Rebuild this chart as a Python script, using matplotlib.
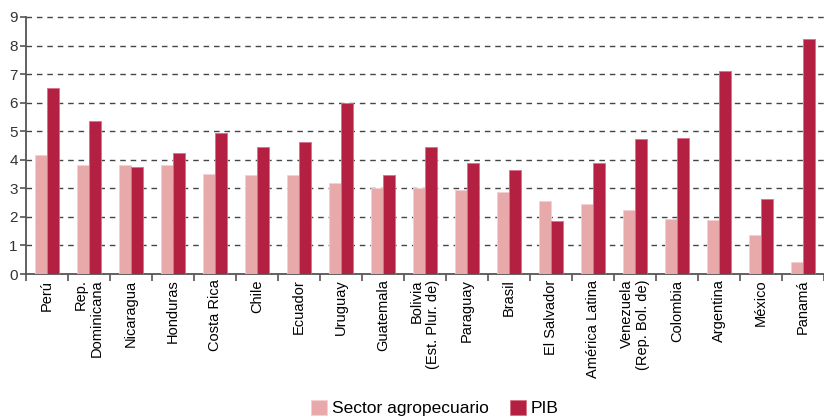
import numpy as np
import matplotlib
matplotlib.use('Agg')
import matplotlib.pyplot as plt

plt.rcParams['font.family'] = ['Liberation Sans', 'DejaVu Sans']

paises = ['Perú', 'Rep.\nDominicana', 'Nicaragua', 'Honduras', 'Costa Rica',
          'Chile', 'Ecuador', 'Uruguay', 'Guatemala', 'Bolivia\n(Est. Plur. de)',
          'Paraguay', 'Brasil', 'El Salvador', 'América Latina',
          'Venezuela\n(Rep. Bol. de)', 'Colombia', 'Argentina', 'México', 'Panamá']
agro = [4.18, 3.82, 3.82, 3.82, 3.50, 3.45, 3.45, 3.20, 3.00, 3.00,
        2.95, 2.88, 2.56, 2.44, 2.24, 1.93, 1.88, 1.37, 0.43]
pib = [6.50, 5.37, 3.75, 4.25, 4.95, 4.45, 4.63, 6.00, 3.45, 4.45,
       3.88, 3.63, 1.87, 3.88, 4.74, 4.75, 7.11, 2.62, 8.23]

c_agro = '#e8a9ab'
c_pib = '#b42041'

fig = plt.figure(figsize=(8.24, 4.18), dpi=100)
ax = fig.add_axes([26 / 824, 144 / 418, 798 / 824, 257 / 418])

x = np.arange(len(paises))
w = 0.275
ax.bar(x - w / 2, agro, w, color=c_agro, edgecolor='#f3d0d2', linewidth=0.6,
       label='Sector agropecuario', zorder=3)
ax.bar(x + w / 2, pib, w, color=c_pib, edgecolor='#d87088', linewidth=0.6,
       label='PIB', zorder=3)

ax.set_xlim(-0.5, len(paises) - 0.5)
ax.set_ylim(0, 9)
ax.set_yticks(range(10))
for y in range(1, 10):
    ax.axhline(y, color='#454545', lw=1.0, ls=(0, (4, 3.5)), zorder=1,
               clip_on=False)

ax.set_xticks(x)
ax.set_xticklabels(paises, rotation=90, ha='center', va='top',
                   multialignment='right', fontsize=10.5)
ax.set_xticks(np.arange(-0.5, len(paises), 1), minor=True)
ax.tick_params(axis='x', which='major', length=0, pad=4)
ax.tick_params(axis='x', which='minor', length=5, width=1.2, color='#555555')
ax.tick_params(axis='y', length=4, width=1.2, color='#555555', labelsize=11,
               pad=2, labelcolor='#333333')

for s in ['top', 'right']:
    ax.spines[s].set_visible(False)
for s in ['left', 'bottom']:
    ax.spines[s].set_color('#555555')
    ax.spines[s].set_linewidth(1.3)

fig.legend(loc='center', bbox_to_anchor=(0.528, 1 - 408 / 418), ncol=2,
           frameon=False, fontsize=12.5, handlelength=0.9, handleheight=1.0,
           handletextpad=0.3, columnspacing=1.2)

fig.savefig('out.png', dpi=100)
